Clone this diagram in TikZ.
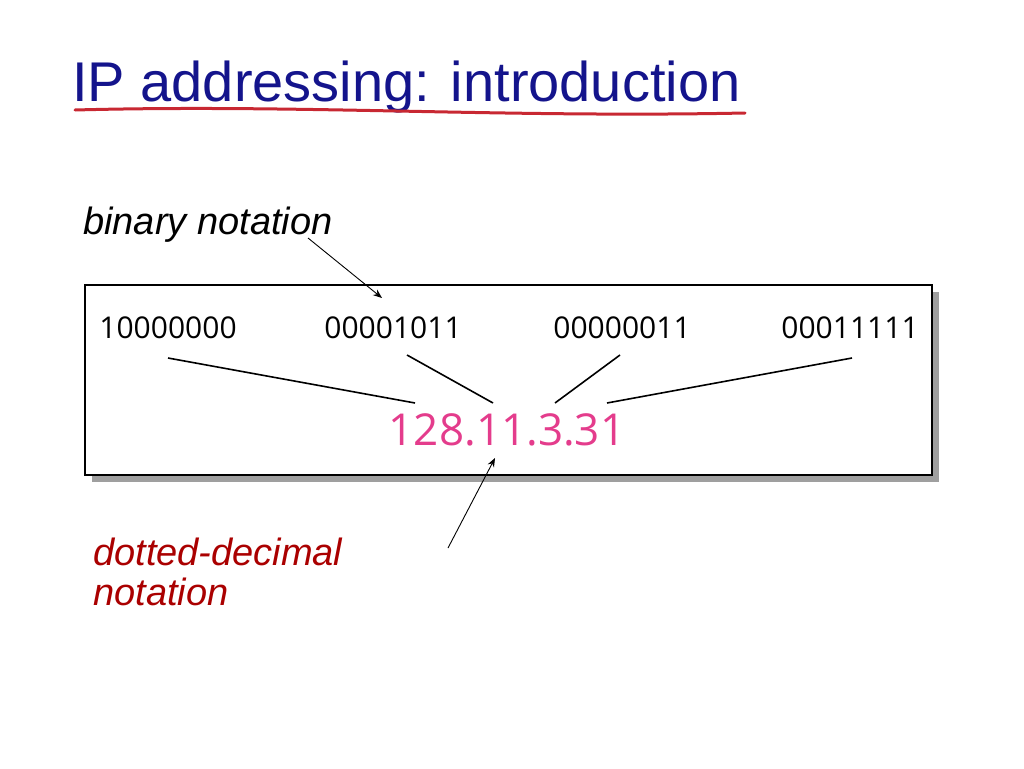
\documentclass[tikz,border=0pt]{standalone}
\usepackage{fontspec}
\setmainfont{Liberation Sans}
\newfontfamily\numfont{Open Sans}
\usetikzlibrary{arrows.meta}
\begin{document}
\begin{tikzpicture}[x=1pt,y=-1pt,
  bin/.style={font=\numfont\fontsize{30}{34}\selectfont},
  lbl/.style={font=\itshape\fontsize{38}{40}\selectfont,align=left,inner sep=0},
  conn/.style={line width=1.6pt},
  arr/.style={-{Stealth[length=9pt,width=7pt]},line width=0.9pt}]
\definecolor{titleblue}{RGB}{20,20,140}
\definecolor{ulred}{RGB}{200,40,50}
\definecolor{mag}{RGB}{228,60,140}
\definecolor{dred}{RGB}{170,0,0}
\useasboundingbox (0,0) rectangle (1024,768);
\node[anchor=base west,inner sep=0,text=titleblue,font=\fontsize{56}{60}\selectfont] (title) at (72,101) {IP addressing: introduction};
\draw[ulred,line width=3pt,line cap=round] (75,110) .. controls (300,104) and (500,118) .. (745,113);
\fill[gray!75] (92,292) rectangle (939,482);
\draw[fill=white,line width=1.8pt] (85,285) rectangle (932,475);
\node[bin] (b1) at (168,328) {10000000};
\node[bin] (b2) at (393,328) {00001011};
\node[bin] (b3) at (622,328) {00000011};
\node[bin] (b4) at (850,328) {00011111};
\node[text=mag,font=\numfont\fontsize{44}{48}\selectfont] (ip) at (507,430) {128.11.3.31};
\coordinate (c1) at (168,358); \coordinate (d1) at (415,403);
\coordinate (c2) at (407,355); \coordinate (d2) at (493,403);
\coordinate (c3) at (620,355); \coordinate (d3) at (555,403);
\coordinate (c4) at (852,358); \coordinate (d4) at (607,403);
\draw[conn] (c1)--(d1); \draw[conn] (c2)--(d2); \draw[conn] (c3)--(d3); \draw[conn] (c4)--(d4);
\node[lbl,anchor=west] (bn) at (83,225) {binary notation};
\coordinate (bs) at (308,238); \coordinate (be) at (382,298);
\draw[arr] (bs)--(be);
\node[lbl,anchor=north west,text=dred] (dn) at (93,538) {dotted-decimal\\notation};
\coordinate (ds) at (448,548); \coordinate (de) at (495,458);
\draw[arr] (ds)--(de);
\end{tikzpicture}
\end{document}
